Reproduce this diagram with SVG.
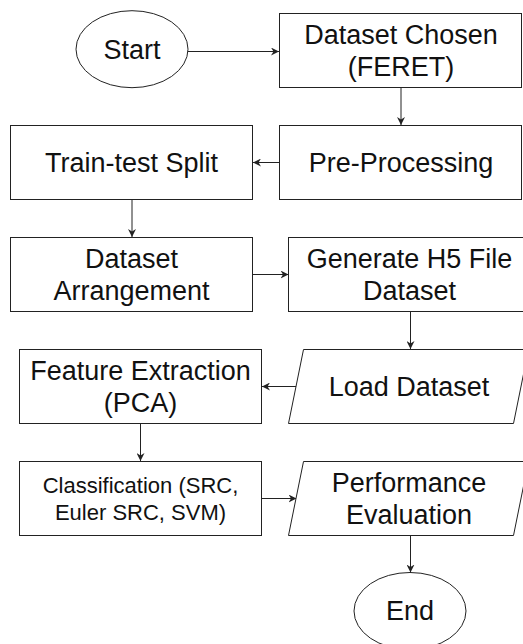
<svg xmlns="http://www.w3.org/2000/svg" width="523" height="644" viewBox="0 0 523 644">
<style>
.s{fill:#fff;stroke:#222;stroke-width:1}
.t{font-family:"Liberation Sans",Arial,sans-serif;font-size:27px;fill:#111;text-anchor:middle}
.t2{font-family:"Liberation Sans",Arial,sans-serif;font-size:22px;fill:#111;text-anchor:middle}
.c{fill:none;stroke:#222;stroke-width:1;marker-end:url(#a)}
</style>
<defs>
<marker id="a" markerUnits="userSpaceOnUse" markerWidth="8" markerHeight="8" refX="8" refY="4" orient="auto">
<path d="M0,0 L8,4 L0,8 L2.5,4 z" fill="#222"/>
</marker>
</defs>
<rect width="523" height="644" fill="#fff"/>
<g id="connectors">
<path class="c" d="M188,51.5 H279"/>
<path class="c" d="M401,87.5 V125"/>
<path class="c" d="M279.5,162.5 H253"/>
<path class="c" d="M132,199.5 V237"/>
<path class="c" d="M252.5,274.5 H288.5"/>
<path class="c" d="M410.5,311.5 V349"/>
<path class="c" d="M296.5,386.5 H262"/>
<path class="c" d="M140.5,423.5 V461"/>
<path class="c" d="M261.5,498.5 H296.5"/>
<path class="c" d="M410.5,535.5 V572.5"/>
</g>
<g id="start">
<ellipse class="s" cx="132" cy="49.2" rx="56" ry="38.5"/>
<text class="t" x="132" y="59">Start</text>
</g>
<g id="dataset-chosen">
<rect class="s" x="279.5" y="13.5" width="242" height="74"/>
<text class="t" x="401" y="44">Dataset Chosen</text>
<text class="t" x="401" y="76.4">(FERET)</text>
</g>
<g id="pre-processing">
<rect class="s" x="279.5" y="125.5" width="242" height="74"/>
<text class="t" x="401" y="172">Pre-Processing</text>
</g>
<g id="train-test-split">
<rect class="s" x="10.5" y="125.5" width="242" height="74"/>
<text class="t" x="131.5" y="172">Train-test Split</text>
</g>
<g id="dataset-arrangement">
<rect class="s" x="10.5" y="237.5" width="242" height="74"/>
<text class="t" x="131.5" y="268">Dataset</text>
<text class="t" x="131.5" y="300.4">Arrangement</text>
</g>
<g id="generate-h5">
<rect class="s" x="288.5" y="237.5" width="242" height="74"/>
<text class="t" x="409.5" y="268">Generate H5 File</text>
<text class="t" x="409.5" y="300.4">Dataset</text>
</g>
<g id="load-dataset">
<polygon class="s" points="303.5,349.5 528.5,349.5 513.5,423.5 288.5,423.5"/>
<text class="t" x="409" y="396.2">Load Dataset</text>
</g>
<g id="feature-extraction">
<rect class="s" x="19.5" y="349.5" width="242" height="74"/>
<text class="t" x="140.5" y="380">Feature Extraction</text>
<text class="t" x="140.5" y="412.4">(PCA)</text>
</g>
<g id="classification">
<rect class="s" x="19.5" y="461.5" width="242" height="74"/>
<text class="t2" x="140.5" y="493.2">Classification (SRC,</text>
<text class="t2" x="140.5" y="519.6">Euler SRC, SVM)</text>
</g>
<g id="performance-evaluation">
<polygon class="s" points="303.5,461.5 528.5,461.5 513.5,535.5 288.5,535.5"/>
<text class="t" x="409" y="492">Performance</text>
<text class="t" x="409" y="524.4">Evaluation</text>
</g>
<g id="end">
<ellipse class="s" cx="410" cy="611" rx="56" ry="38.5"/>
<text class="t" x="410" y="620">End</text>
</g>
</svg>
